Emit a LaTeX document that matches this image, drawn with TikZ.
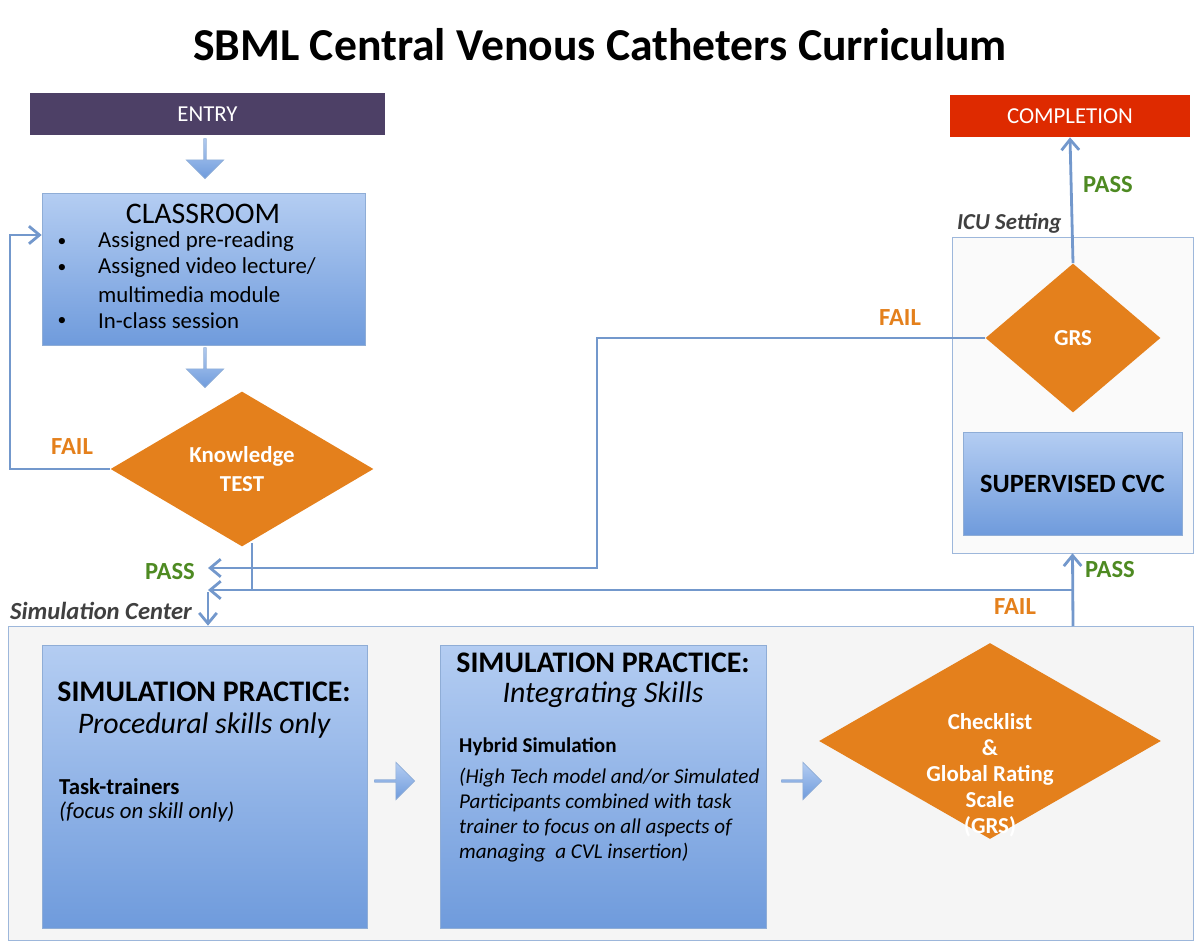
\documentclass[tikz,border=0pt]{standalone}
\usepackage{fontspec}
\setmainfont{Carlito}
\usetikzlibrary{shapes.geometric,shapes.arrows,arrows.meta}
\definecolor{boxtop}{HTML}{B4CDF2}
\definecolor{boxbot}{HTML}{6F9BDC}
\definecolor{lineblue}{HTML}{7398CC}
\definecolor{orng}{HTML}{E4801C}
\definecolor{grn}{HTML}{4E8A22}
\definecolor{entryc}{HTML}{4D4066}
\definecolor{complc}{HTML}{DE2A00}
\begin{document}
\begin{tikzpicture}[x=0.02cm,y=-0.02cm,
  box/.style={draw=lineblue!80, top color=boxtop, bottom color=boxbot, inner sep=0pt},
  dia/.style={diamond, fill=orng, inner sep=0pt, text=white, font=\bfseries\fontsize{13}{15}\selectfont, align=center},
  blk/.style={single arrow, draw=lineblue!80, top color=boxtop, bottom color=boxbot, minimum height=0.8cm, minimum width=0.75cm, single arrow head extend=0.1cm, inner sep=0pt},
  conn/.style={draw=lineblue, line width=1.6pt},
  tip/.style={-{Straight Barb[length=6pt,width=10pt]}},
  fail/.style={text=orng, font=\bfseries\fontsize{14}{16}\selectfont},
  pass/.style={text=grn, font=\bfseries\fontsize{14}{16}\selectfont},
  body/.style={font=\fontsize{13}{15}\selectfont}]
\useasboundingbox (0,0) rectangle (1200,945);
\node[font=\bfseries\fontsize{26}{30}\selectfont] (title) at (600,45) {SBML Central Venous Catheters Curriculum};

% regions
\node[draw=lineblue!70, fill=gray!8, minimum width=23.7cm, minimum height=6.28cm, inner sep=0pt] (sim) at (600.5,783) {};
\node[anchor=south west, font=\bfseries\itshape\fontsize{14}{16}\selectfont, text=black!75, inner sep=1pt] (simlab) at (8,622) {Simulation Center};
\node[draw=lineblue!70, fill=gray!4, minimum width=4.82cm, minimum height=6.32cm, inner sep=0pt] (icu) at (1072.5,395) {};
\node[anchor=south west, font=\bfseries\itshape\fontsize{13}{15}\selectfont, text=black!75, inner sep=1pt] (iculab) at (955,235) {ICU Setting};

% top row
\node[fill=entryc, minimum width=7.1cm, minimum height=0.84cm, text=white, font=\fontsize{13}{15}\selectfont] (entry) at (207.5,114) {ENTRY};
\node[fill=complc, minimum width=4.8cm, minimum height=0.84cm, text=white, font=\fontsize{13}{15}\selectfont] (compl) at (1070,116) {COMPLETION};

% classroom
\node[box, minimum width=6.46cm, minimum height=3.04cm] (cls) at (203.5,269) {};
\node[font=\fontsize{17}{19}\selectfont] (clst) at (203,214) {CLASSROOM};
\node[font=\fontsize{10}{12}\selectfont] (b1) at (62,242) {\textbullet};
\node[font=\fontsize{10}{12}\selectfont] (b2) at (62,268) {\textbullet};
\node[font=\fontsize{10}{12}\selectfont] (b3) at (62,321) {\textbullet};
\node[body, anchor=west] (t1) at (92,242) {Assigned pre-reading};
\node[body, anchor=west] (t2) at (92,268) {Assigned video lecture/};
\node[body, anchor=west] (t3) at (92,295) {multimedia module};
\node[body, anchor=west] (t4) at (92,321) {In-class session};

\node[blk, rotate=-90] (a1) at (205,158) {};
\node[blk, rotate=-90] (a2) at (205,367) {};

\node[dia, minimum width=5.26cm, minimum height=3.1cm] (kt) at (242,469) {Knowledge\\[2pt]TEST};

% ICU
\node[dia, minimum width=3.5cm, minimum height=2.98cm] (grs) at (1073,338) {GRS};
\node[box, minimum width=4.38cm, minimum height=2.06cm, font=\bfseries\fontsize{15}{17}\selectfont] (sup) at (1072.5,483.5) {SUPERVISED CVC};

% simulation boxes
\node[box, minimum width=6.5cm, minimum height=5.66cm] (s1) at (204.5,786.5) {};
\node[font=\bfseries\fontsize{17}{19}\selectfont] (s1a) at (204,692) {SIMULATION PRACTICE:};
\node[font=\itshape\fontsize{17}{19}\selectfont] (s1b) at (204,726) {Procedural skills only};
\node[font=\bfseries\fontsize{13}{15}\selectfont, anchor=west] (s1c) at (53,787) {Task-trainers};
\node[font=\itshape\fontsize{13}{15}\selectfont, anchor=west] (s1d) at (53,812) {(focus on skill only)};

\node[box, minimum width=6.52cm, minimum height=5.66cm] (s2) at (603,786.5) {};
\node[font=\bfseries\fontsize{17}{19}\selectfont] (s2a) at (603,663) {SIMULATION PRACTICE:};
\node[font=\itshape\fontsize{17}{19}\selectfont] (s2b) at (603,695) {Integrating Skills};
\node[font=\bfseries\fontsize{12}{14}\selectfont, anchor=west] (s2c) at (453,747) {Hybrid Simulation};
\node[font=\itshape\fontsize{12}{14.2}\selectfont, anchor=north west, align=left] (s2d) at (453,762) {(High Tech model and/or Simulated\\Participants combined with task\\trainer to focus on all aspects of\\managing\ \ a CVL insertion)};

\node[blk] (a3) at (394,781) {};
\node[blk] (a4) at (801,781) {};

\node[dia, minimum width=6.84cm, minimum height=3.92cm] (chk) at (990,741) {};
\node[text=white, align=center, font=\bfseries\fontsize{13}{14.8}\selectfont] (chkt) at (990,775) {Checklist\\\&\\Global Rating\\Scale\\(GRS)};

% connectors
\coordinate (kl) at (10,469);
\coordinate (ju1) at (208,568);
\coordinate (ju2) at (208,590);
\coordinate (kd) at (252,590);
\coordinate (gf) at (597,568);
\coordinate (sx) at (1073,626);
\coordinate (sy) at (1073,590);
\draw[conn, tip] (kt.west) -- (kl) |- (cls.west |- 0,235);
\draw[conn] (kt.south -| kd) ++(0,-4) -- (kd);
\draw[conn, tip] (grs.west) -| (gf) -- (ju1);
\draw[conn, tip] (sx) -- (sup.south |- icu.south);
\draw[conn, tip] (sy) -- (ju2);
\draw[conn, tip] (ju2) ++(0,2) -- (sim.north -| ju2);
\draw[conn, tip] (grs.north) -- (compl.south);

% labels
\node[fail] (f1) at (72,447) {FAIL};
\node[pass] (p1) at (170,572) {PASS};
\node[fail] (f2) at (900,318) {FAIL};
\node[pass] (p2) at (1108,185) {PASS};
\node[pass] (p3) at (1110,570) {PASS};
\node[fail] (f3) at (1015,607) {FAIL};
\end{tikzpicture}
\end{document}
